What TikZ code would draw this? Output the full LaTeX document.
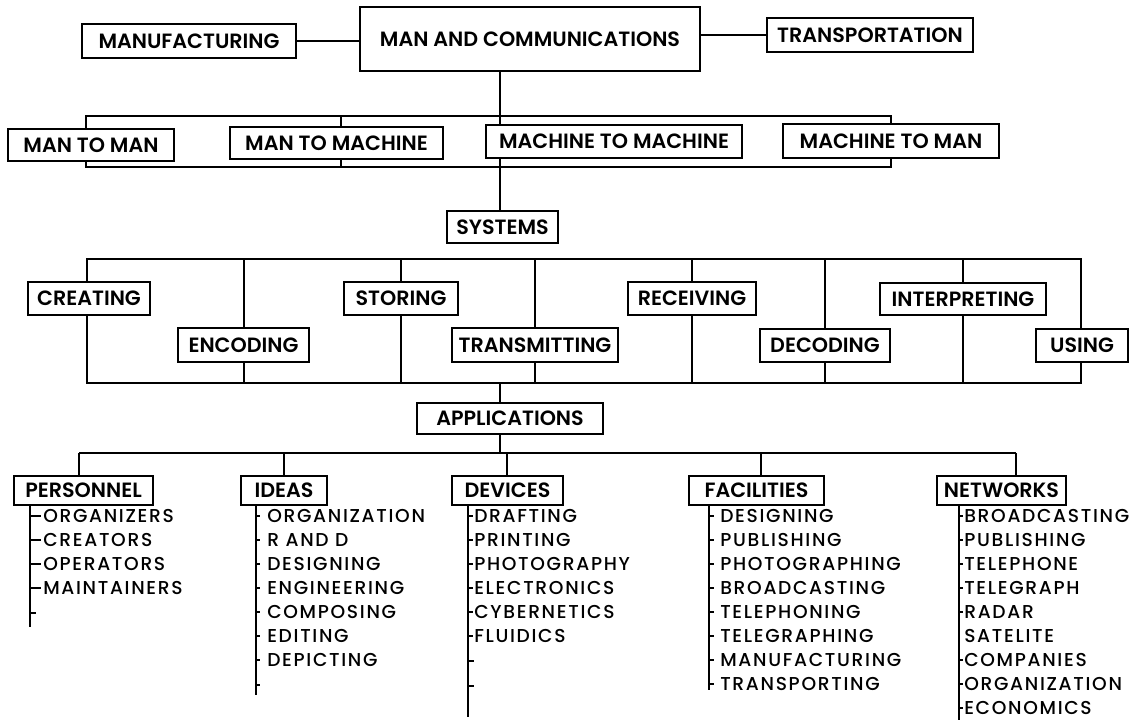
\documentclass[tikz,border=0pt]{standalone}
\usepackage{fontspec}
\setmainfont{Poppins}
\newfontfamily\boxfont{Poppins SemiBold}[LetterSpace=0]
\newfontfamily\listfont{Poppins Medium}[LetterSpace=9]
\usetikzlibrary{backgrounds}
\tikzset{
  bx/.style={draw, fill=white, line width=1.6pt, inner sep=0pt, text height=10.8pt, text depth=0pt,
    font=\boxfont\fontsize{15.5}{15.5}\selectfont},
  ln/.style={line width=1.5pt},
  itm/.style={anchor=west, inner sep=0pt, text height=9.8pt, text depth=0pt,
    font=\listfont\fontsize{14}{14}\selectfont},
}
\newcommand{\mkbox}[6]{\node[bx, minimum width={(#4-#2)*0.75pt}, minimum height={(#5-#3)*0.75pt}] (#1) at ({(#2+#4)/2},{(#3+#5)/2}) {#6};}
\newcommand{\mkitem}[6]{\node[itm] (#1) at (#2,#3) {#4}; \draw[ln] (#1.west -| #5) -- ++(#6,0);}
\begin{document}
\begin{tikzpicture}[x=0.75pt,y=-0.75pt]
\useasboundingbox (0,0) rectangle (1145,726);
% ---------- top ----------
\mkbox{mac}{360}{7}{700}{71}{MAN AND COMMUNICATIONS}
\mkbox{manuf}{82}{24}{296}{58}{MANUFACTURING}
\mkbox{trans}{767}{18}{973}{52}{TRANSPORTATION}
\draw[ln] (manuf.east) -- (manuf.east -| mac.west);
\draw[ln] (trans.west) -- (trans.west -| mac.east);
% ---------- row 2 ----------
\mkbox{mm}{8}{129}{174}{161}{MAN TO MAN}
\mkbox{mmach}{230}{127}{443}{159}{MAN TO MACHINE}
\mkbox{machmach}{486}{125}{742}{158}{MACHINE TO MACHINE}
\mkbox{machman}{783}{124}{999}{158}{MACHINE TO MAN}
\coordinate (spine) at (500,0);
\coordinate (brTL) at (86,116);
\coordinate (brBR) at (891,167);
\coordinate (tk1) at (341,116);
\coordinate (bk1) at (341,167);
% ---------- systems ----------
\mkbox{sys}{447}{211}{558}{243}{SYSTEMS}
\mkbox{cre}{28}{282}{150}{315}{CREATING}
\mkbox{enc}{178}{328}{309}{362}{ENCODING}
\mkbox{sto}{344}{282}{458}{315}{STORING}
\mkbox{tra}{452}{328}{618}{362}{TRANSMITTING}
\mkbox{rec}{628}{282}{756}{315}{RECEIVING}
\mkbox{dec}{760}{329}{890}{362}{DECODING}
\mkbox{int}{880}{283}{1046}{315}{INTERPRETING}
\mkbox{usi}{1036}{329}{1128}{362}{USING}
\coordinate (sbTL) at (87,259);
\coordinate (sbBR) at (1081,383);
% ---------- applications ----------
\mkbox{apps}{417}{403}{603}{434}{APPLICATIONS}
\mkbox{pers}{14}{476}{153}{505}{PERSONNEL}
\mkbox{ideas}{241}{476}{327}{505}{IDEAS}
\mkbox{dev}{452}{476}{563}{505}{DEVICES}
\mkbox{fac}{689}{476}{824}{505}{FACILITIES}
\mkbox{net}{937}{476}{1066}{505}{NETWORKS}
\coordinate (abL) at (79,453);
\coordinate (abR) at (1016,453);
\coordinate (tkD) at (507,453);
\coordinate (tkF) at (761,453);
\begin{pgfonlayer}{background}
  \draw[ln] (mac.south -| spine) -- (sys.north -| spine);
  \draw[ln] (brTL) rectangle (brBR);
  \draw[ln] (tk1) -- (tk1 |- mmach.north);
  \draw[ln] (bk1) -- (bk1 |- mmach.south);
  \draw[ln] (sbTL) rectangle (sbBR);
  \foreach \n in {enc,sto,tra,rec,dec,int} \draw[ln] (sbTL -| \n) -- (sbBR -| \n);
  \draw[ln] (sbBR -| spine) -- (apps.north -| spine);
  \draw[ln] (apps.south -| spine) -- (abL -| spine);
  \draw[ln] (abL) -- (abR);
  \draw[ln] (abL) -- (abL |- pers.north);
  \draw[ln] (abL -| ideas) -- (ideas.north);
  \draw[ln] (tkD) -- (tkD |- dev.north);
  \draw[ln] (tkF) -- (tkF |- fac.north);
  \draw[ln] (abR) -- (abR |- net.north);
\end{pgfonlayer}
% ---------- lists ----------
\coordinate (lP) at (30,627);
\coordinate (lI) at (256,695);
\coordinate (lD) at (468,717);
\coordinate (lF) at (709,690);
\coordinate (lN) at (959,720);
\draw[ln] (pers.south -| lP) -- (lP);
\draw[ln] (ideas.south -| lI) -- (lI);
\draw[ln] (dev.south -| lD) -- (lD);
\draw[ln] (fac.south -| lF) -- (lF);
\draw[ln] (net.south -| lN) -- (lN);
% personnel
\mkitem{p1}{43}{516}{ORGANIZERS}{lP}{11}
\mkitem{p2}{43}{540}{CREATORS}{lP}{11}
\mkitem{p3}{43}{564}{OPERATORS}{lP}{11}
\mkitem{p4}{43}{588}{MAINTAINERS}{lP}{11}
\coordinate (p5) at (30,613); \draw[ln] (p5) -- ++(6,0);
% ideas
\mkitem{i1}{267}{516}{ORGANIZATION}{lI}{4}
\mkitem{i2}{267}{540}{R AND D}{lI}{4}
\mkitem{i3}{267}{564}{DESIGNING}{lI}{4}
\mkitem{i4}{267}{588}{ENGINEERING}{lI}{4}
\mkitem{i5}{267}{612}{COMPOSING}{lI}{4}
\mkitem{i6}{267}{636}{EDITING}{lI}{4}
\mkitem{i7}{267}{660}{DEPICTING}{lI}{4}
\coordinate (i8) at (256,685); \draw[ln] (i8) -- ++(4,0);
% devices
\mkitem{d1}{474}{516}{DRAFTING}{lD}{5}
\mkitem{d2}{474}{540}{PRINTING}{lD}{5}
\mkitem{d3}{474}{564}{PHOTOGRAPHY}{lD}{5}
\mkitem{d4}{474}{588}{ELECTRONICS}{lD}{5}
\mkitem{d5}{474}{612}{CYBERNETICS}{lD}{5}
\mkitem{d6}{474}{636}{FLUIDICS}{lD}{5}
\coordinate (d7) at (468,661); \draw[ln] (d7) -- ++(6,0);
\coordinate (d8) at (468,686); \draw[ln] (d8) -- ++(6,0);
% facilities
\mkitem{f1}{720}{516}{DESIGNING}{lF}{5}
\mkitem{f2}{720}{540}{PUBLISHING}{lF}{5}
\mkitem{f3}{720}{564}{PHOTOGRAPHING}{lF}{5}
\mkitem{f4}{720}{588}{BROADCASTING}{lF}{5}
\mkitem{f5}{720}{612}{TELEPHONING}{lF}{5}
\mkitem{f6}{720}{636}{TELEGRAPHING}{lF}{5}
\mkitem{f7}{720}{660}{MANUFACTURING}{lF}{5}
\mkitem{f8}{720}{684}{TRANSPORTING}{lF}{5}
% networks
\mkitem{n1}{964}{516}{BROADCASTING}{lN}{4}
\mkitem{n2}{964}{540}{PUBLISHING}{lN}{4}
\mkitem{n3}{964}{564}{TELEPHONE}{lN}{4}
\mkitem{n4}{964}{588}{TELEGRAPH}{lN}{4}
\mkitem{n5}{964}{612}{RADAR}{lN}{4}
\node[itm] (n6) at (964,636) {SATELITE};
\mkitem{n7}{964}{660}{COMPANIES}{lN}{4}
\mkitem{n8}{964}{684}{ORGANIZATION}{lN}{4}
\mkitem{n9}{964}{708}{ECONOMICS}{lN}{4}
\end{tikzpicture}
\end{document}
